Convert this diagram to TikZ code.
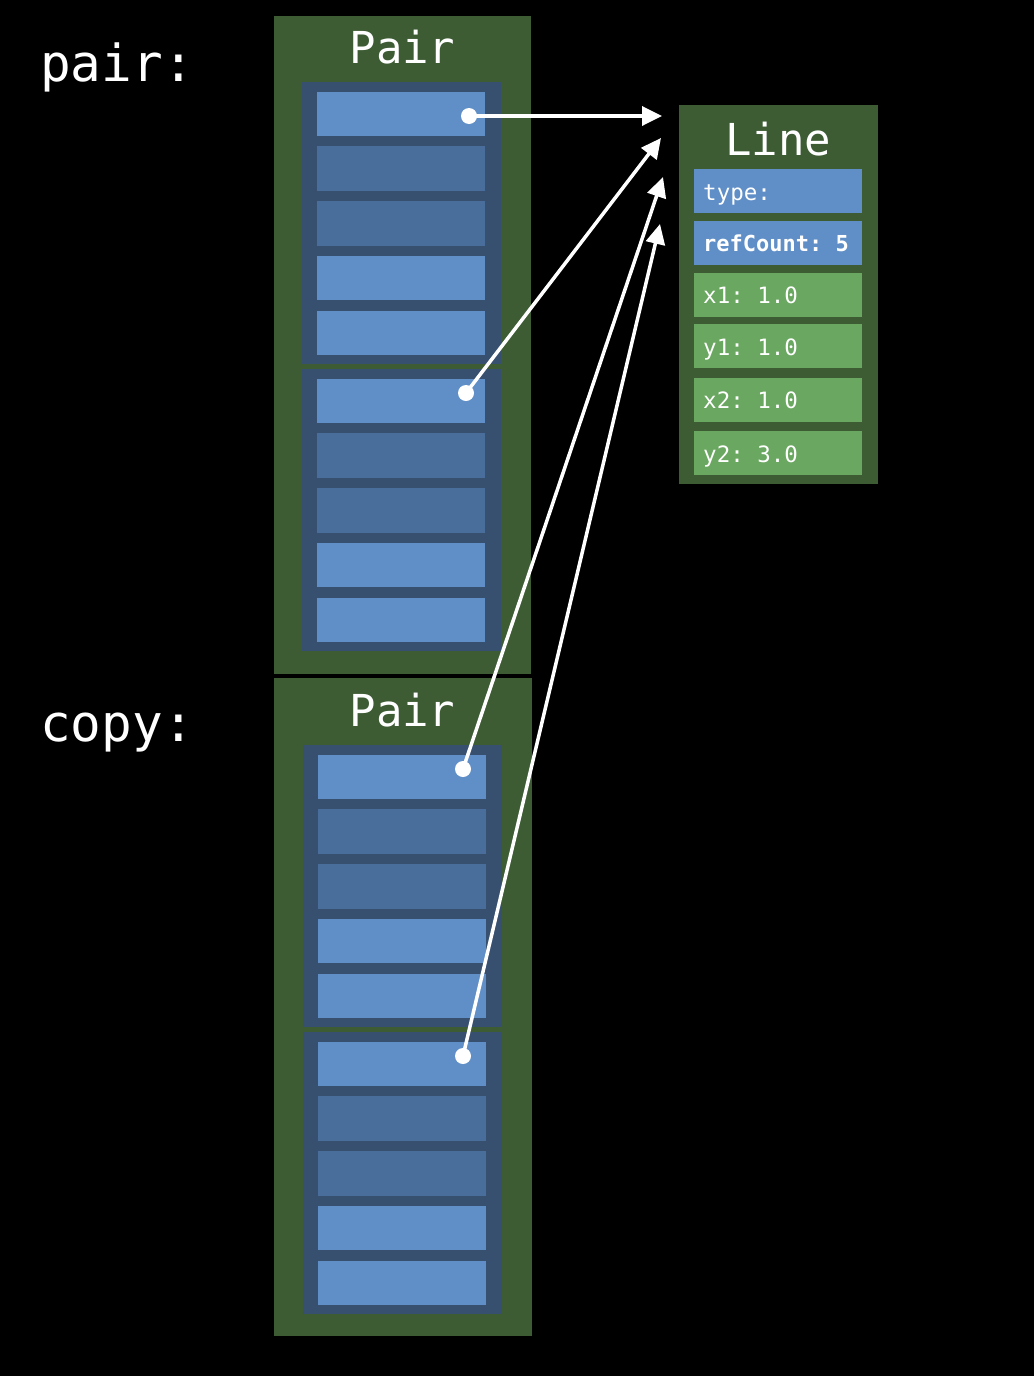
\documentclass[tikz,border=0pt]{standalone}
\usepackage{fontspec}
\setmonofont{DejaVu Sans Mono}
\usetikzlibrary{arrows.meta}
\definecolor{bggreen}{RGB}{61,92,52}
\definecolor{grpblue}{RGB}{55,80,112}
\definecolor{lightcell}{RGB}{96,143,199}
\definecolor{darkcell}{RGB}{74,110,155}
\definecolor{greenfield}{RGB}{106,167,96}
\tikzset{
  outerbox/.style={fill=bggreen, draw=none, anchor=north west, inner sep=0pt},
  groupbox/.style={fill=grpblue, draw=none, anchor=north west, inner sep=0pt, minimum width=199pt, minimum height=282pt},
  cellL/.style={fill=lightcell, draw=none, anchor=north west, inner sep=0pt, minimum width=168pt, minimum height=44.5pt},
  cellD/.style={fill=darkcell, draw=none, anchor=north west, inner sep=0pt, minimum width=168pt, minimum height=44.5pt},
  fieldB/.style={fill=lightcell, draw=none, anchor=north west, inner sep=0pt, minimum width=168pt, minimum height=44pt},
  fieldG/.style={fill=greenfield, draw=none, anchor=north west, inner sep=0pt, minimum width=168pt, minimum height=44pt},
  title/.style={text=white, anchor=base, inner sep=0pt, font=\ttfamily\fontsize{44}{48}\selectfont},
  varlabel/.style={text=white, anchor=base west, inner sep=0pt, font=\ttfamily\fontsize{51}{55}\selectfont},
  fieldtext/.style={text=white, anchor=base west, inner sep=0pt, font=\ttfamily\fontsize{22.5}{26}\selectfont},
  dot/.style={circle, fill=white, draw=none, inner sep=0pt, minimum size=16pt},
  ptr/.style={draw=white, line width=3.5pt, -{Triangle[length=20pt,width=19pt]}},
}
\begin{document}
\begin{tikzpicture}[x=1pt,y=-1pt]
\fill[black] (0,0) rectangle (1034,1376);
\useasboundingbox (0,0) rectangle (1034,1376);

% labels
\node[varlabel] (lpair) at (40,81) {pair:};
\node[varlabel] (lcopy) at (40,741) {copy:};

% Pair boxes
\node[outerbox, minimum width=257pt, minimum height=658pt] (pair1) at (274,16) {};
\node[outerbox, minimum width=258pt, minimum height=658pt] (pair2) at (274,678) {};
\node[title] (pt1) at (402.5,63) {Pair};
\node[title] (pt2) at (402.5,726) {Pair};

% groups and cells
\foreach \g/\gx/\gy in {1/302/82, 2/302/369, 3/303/745, 4/303/1032} {
  \node[groupbox] (g\g) at (\gx,\gy) {};
  \pgfmathsetmacro{\cx}{\gx+15}
  \node[cellL] (g\g c1) at (\cx,\gy+9.5) {};
  \node[cellD] (g\g c2) at (\cx,\gy+64.25) {};
  \node[cellD] (g\g c3) at (\cx,\gy+119) {};
  \node[cellL] (g\g c4) at (\cx,\gy+173.75) {};
  \node[cellL] (g\g c5) at (\cx,\gy+228.5) {};
}

% Line box
\node[outerbox, minimum width=199pt, minimum height=379pt] (line) at (679,105) {};
\node[title] (lt) at (778,155) {Line};
\node[fieldB] (ftype) at (694,169) {};
\node[fieldB] (fref) at (694,221) {};
\node[fieldG] (fx1) at (694,273) {};
\node[fieldG] (fy1) at (694,324) {};
\node[fieldG] (fx2) at (694,378) {};
\node[fieldG] (fy2) at (694,431) {};
\node[fieldtext] (ttype) at (703,200) {type:};
\node[fieldtext, font=\ttfamily\bfseries\fontsize{22}{26}\selectfont] (tref) at (703,251) {refCount: 5};
\node[fieldtext] (tx1) at (703,303) {x1: 1.0};
\node[fieldtext] (ty1) at (703,355) {y1: 1.0};
\node[fieldtext] (tx2) at (703,408) {x2: 1.0};
\node[fieldtext] (ty2) at (703,462) {y2: 3.0};

% pointers
\node[dot] (d1) at (469,116) {};
\node[dot] (d2) at (466,393) {};
\node[dot] (d3) at (463,769) {};
\node[dot] (d4) at (463,1056) {};
\coordinate (t1) at (662,116);
\coordinate (t2) at (661,138);
\coordinate (t3) at (663,177);
\coordinate (t4) at (660,224);
\draw[ptr] (d1.center) -- (t1);
\draw[ptr] (d2.center) -- (t2);
\draw[ptr] (d3.center) -- (t3);
\draw[ptr] (d4.center) -- (t4);
\end{tikzpicture}
\end{document}
